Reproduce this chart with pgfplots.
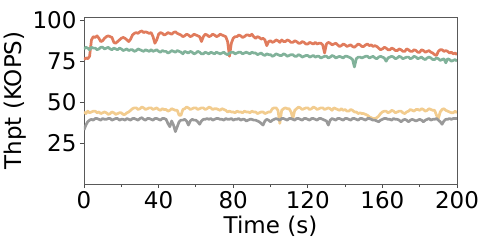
\documentclass[border=0pt]{standalone}
\usepackage{pgfplots}
\pgfplotsset{compat=1.18}
\usepackage{fontspec}
\setmainfont{DejaVu Sans}
\definecolor{cred}{RGB}{224,123,92}
\definecolor{cgreen}{RGB}{129,178,154}
\definecolor{cyellow}{RGB}{242,204,143}
\definecolor{cgray}{RGB}{153,153,153}
\begin{document}
\begin{tikzpicture}
\useasboundingbox (0,0) rectangle (488pt,250pt);
\begin{axis}[
  at={(84pt,66pt)}, anchor=south west,
  scale only axis, width=373pt, height=167pt,
  xmin=0, xmax=200, ymin=0, ymax=102,
  xtick={0,40,...,200}, minor xtick={20,60,...,180},
  ytick={25,50,75,100},
  tick align=outside, major tick length=4pt, minor tick length=3pt,
  xtick pos=bottom, ytick pos=left,
  tick style={black!70, line width=0.8pt},
  axis line style={black!65, line width=0.9pt},
  ticklabel style={font=\fontsize{23}{25}\selectfont},
  label style={font=\fontsize{23}{25}\selectfont},
  /pgf/number format/assume math mode=true,
  xlabel={Time (s)}, ylabel={Thpt (KOPS)},
  xlabel style={yshift=0pt},
  ylabel style={yshift=-1pt},
  every axis plot/.append style={line width=2.7pt, line join=round, no marks},
]
\addplot[cred] coordinates {
(0,76)(1,77)(2,76.5)(3,78)(4,88)(5,90)(6,89.5)(7,90.5)(8,89)(9,87)(10,87.5)(11,89)(12,90)(13,90.5)(14,90)(15,89.5)(16,86.5)(17,86)(18,87)(19,88)(20,89)(21,89.5)(22,89)(23,88)(24,87)(25,88.5)(26,91)(27,92)(28,92.5)(29,92)(30,93)(31,93.5)(32,92.5)(33,93)(34,92.5)(35,92)(36,92.5)(37,90)(38,86)(39,88)(40,91.5)(41,92.5)(42,92)(43,91)(44,91.5)(45,92.5)(46,92)(47,91.5)(48,92.5)(49,93)(50,92)(51,91.5)(52,91)(53,90)(54,90.5)(55,91.5)(56,91)(57,90)(58,90.5)(59,91.5)(60,91)(61,90.5)(62,90)(63,87)(64,90)(65,91.5)(66,91)(67,90)(68,90.5)(69,91.5)(70,91)(71,90)(72,90.5)(73,91.5)(74,91)(75,90.5)(76,90)(77,87)(78,78)(79,86)(80,89)(81,90)(82,90)(83,91)(84,90.5)(85,89.5)(86,90)(87,91)(88,91)(89,90.5)(90,91.5)(91,90)(92,89)(93,90)(94,89.5)(95,88.5)(96,89)(97,88)(98,84.5)(99,87)(100,87.5)(101,86.5)(102,87)(103,88)(104,87.5)(105,86.5)(106,88)(107,87)(108,87)(109,88)(110,87.5)(111,86.5)(112,86.5)(113,87.5)(114,87)(115,86)(116,86)(117,87)(118,86.5)(119,85.5)(120,85.5)(121,86.5)(122,86)(123,85.5)(124,86.5)(125,85.5)(126,86)(127,86)(128,85)(129,80)(130,85.5)(131,86.5)(132,86)(133,85)(134,85.5)(135,86)(136,85)(137,84)(138,84.5)(139,85.5)(140,85)(141,84)(142,84.5)(143,85)(144,84)(145,83.5)(146,84.5)(147,85.5)(148,85)(149,84)(150,84)(151,85)(152,85.5)(153,84.5)(154,85)(155,84)(156,84.5)(157,84)(158,83)(159,82)(160,82.5)(161,83.5)(162,83)(163,82)(164,82)(165,83)(166,82.5)(167,81.5)(168,81.5)(169,82.5)(170,82)(171,81)(172,81)(173,82.5)(174,82)(175,81)(176,81)(177,82)(178,81.5)(179,80.5)(180,80.5)(181,82)(182,81.5)(183,80.5)(184,81)(185,81.5)(186,80.5)(187,80)(188,79)(189,78.5)(190,81)(191,82)(192,82)(193,81)(194,81.5)(195,81)(196,80)(197,80.5)(198,79.5)(199,80)(200,79)
};
\addplot[cgreen] coordinates {
(0,82.5)(1,83.5)(2,83)(3,82)(4,83.5)(5,83)(6,83)(7,82)(8,82.5)(9,83.5)(10,83.5)(11,82.5)(12,83)(13,83.5)(14,82.5)(15,82)(16,83)(17,82.5)(18,82)(19,83)(20,82.5)(21,81.5)(22,82)(23,82.5)(24,81.5)(25,82)(26,82)(27,81)(28,81.5)(29,82.5)(30,82)(31,81.5)(32,81)(33,82)(34,81.5)(35,81)(36,82)(37,81)(38,81.5)(39,82)(40,81)(41,80.5)(42,81.5)(43,81)(44,81)(45,80)(46,80.5)(47,81.5)(48,81)(49,80.5)(50,81.5)(51,81)(52,80.5)(53,79.5)(54,81)(55,80.5)(56,80)(57,81)(58,80.5)(59,79.5)(60,80)(61,81)(62,80.5)(63,79.5)(64,79.5)(65,80.5)(66,80)(67,79.5)(68,80.5)(69,80)(70,79.5)(71,80.5)(72,80)(73,79.5)(74,80)(75,80.5)(76,79.5)(77,79)(78,80)(79,80.5)(80,80.5)(81,79.5)(82,80)(83,80.5)(84,80.5)(85,79.5)(86,80)(87,80.5)(88,80)(89,79.5)(90,80.5)(91,80)(92,80)(93,79)(94,79.5)(95,80)(96,79)(97,78.5)(98,79.5)(99,79)(100,79)(101,78)(102,78.5)(103,79.5)(104,79)(105,78.5)(106,78.5)(107,79.5)(108,79)(109,78)(110,78.5)(111,79)(112,79)(113,78)(114,78)(115,79)(116,78.5)(117,77.5)(118,78)(119,78.5)(120,78.5)(121,77.5)(122,78)(123,78.5)(124,77.5)(125,78)(126,78)(127,77)(128,77.5)(129,78)(130,78)(131,77)(132,77.5)(133,78.5)(134,78)(135,77)(136,77.5)(137,78)(138,77.5)(139,77)(140,78)(141,78)(142,77.5)(143,77)(144,76)(145,71.5)(146,76.5)(147,77.5)(148,77.5)(149,77)(150,77.5)(151,78)(152,78)(153,77)(154,77.5)(155,78)(156,77)(157,76.5)(158,77.5)(159,78)(160,77.5)(161,77)(162,75)(163,77)(164,77.5)(165,78)(166,77.5)(167,76.5)(168,77)(169,78)(170,77.5)(171,76.5)(172,77)(173,77.5)(174,77.5)(175,76.5)(176,77)(177,78)(178,77.5)(179,76.5)(180,77)(181,77.5)(182,76.5)(183,76)(184,77)(185,77.5)(186,77)(187,76)(188,76)(189,77)(190,76.5)(191,75.5)(192,76)(193,76.5)(194,74)(195,76.5)(196,76)(197,75)(198,75.5)(199,76)(200,75)
};
\addplot[cyellow] coordinates {
(0,44)(1,43)(2,44.5)(3,43.5)(4,44)(5,44.5)(6,44.5)(7,43.5)(8,44)(9,43)(10,43.5)(11,44)(12,43.5)(13,42.5)(14,43)(15,44)(16,43.5)(17,42.5)(18,43)(19,43.5)(20,43.5)(21,42.5)(22,42.5)(23,43.5)(24,44)(25,45)(26,46)(27,46.5)(28,46.5)(29,45.5)(30,46)(31,47)(32,46.5)(33,45.5)(34,46)(35,46.5)(36,46.5)(37,45.5)(38,46)(39,46.5)(40,45.5)(41,45)(42,46)(43,45.5)(44,45.5)(45,44.5)(46,45)(47,46)(48,45.5)(49,45)(50,45)(51,42)(52,42)(53,45.5)(54,46)(55,47)(56,46.5)(57,45.5)(58,46)(59,46.5)(60,46.5)(61,45.5)(62,46)(63,46.5)(64,46.5)(65,45.5)(66,46)(67,47)(68,46.5)(69,45.5)(70,46)(71,46)(72,45.5)(73,45)(74,46)(75,45.5)(76,45)(77,44)(78,44.5)(79,44)(80,44)(81,43.5)(82,44.5)(83,44)(84,44)(85,43.5)(86,44.5)(87,44)(88,44)(89,43.5)(90,44.5)(91,44)(92,44)(93,43)(94,43.5)(95,44)(96,44)(97,43)(98,43.5)(99,44)(100,44)(101,46)(102,46.5)(103,46.5)(104,45)(105,37)(106,45)(107,46)(108,46.5)(109,46)(110,46)(111,44)(112,40)(113,45)(114,46)(115,47)(116,46.5)(117,45.5)(118,46)(119,46.5)(120,46.5)(121,45.5)(122,46)(123,47)(124,46.5)(125,45.5)(126,46)(127,46.5)(128,46.5)(129,45.5)(130,46)(131,46.5)(132,46)(133,45)(134,46.5)(135,46)(136,45.5)(137,45)(138,46)(139,45)(140,45.5)(141,44.5)(142,44.5)(143,45.5)(144,45)(145,44)(146,44)(147,43)(148,43.5)(149,43)(150,43)(151,42.5)(152,42)(153,41)(154,40.5)(155,40)(156,40)(157,40.5)(158,41.5)(159,43)(160,44)(161,44.5)(162,44.5)(163,43.5)(164,44)(165,45)(166,44.5)(167,43.5)(168,44)(169,44.5)(170,44.5)(171,43.5)(172,43)(173,44)(174,44.5)(175,45.5)(176,45)(177,44.5)(178,45.5)(179,45.5)(180,45)(181,46)(182,45.5)(183,44.5)(184,45)(185,46)(186,45.5)(187,45)(188,45)(189,42)(190,40)(191,44)(192,45.5)(193,46)(194,45)(195,44.5)(196,44)(197,43.5)(198,43.5)(199,44.5)(200,43.5)
};
\addplot[cgray] coordinates {
(0,33)(1,36)(2,38)(3,39)(4,39.5)(5,39)(6,40)(7,40)(8,39.5)(9,39)(10,40)(11,39.5)(12,39.5)(13,40)(14,40)(15,39)(16,39.5)(17,40)(18,40)(19,39)(20,39.5)(21,39.5)(22,39)(23,40)(24,39.5)(25,39)(26,40)(27,40)(28,39.5)(29,39)(30,40)(31,40.5)(32,39.5)(33,39)(34,40)(35,40)(36,39.5)(37,39)(38,40)(39,40)(40,39.5)(41,39)(42,40)(43,40)(44,39.5)(45,37)(46,35)(47,38.5)(48,36)(49,32)(50,35)(51,38)(52,39)(53,39)(54,39.5)(55,38.5)(56,36)(57,38.5)(58,39.5)(59,39)(60,39)(61,38)(62,36.5)(63,38.5)(64,39.5)(65,39.5)(66,40)(67,39.5)(68,40)(69,39)(70,39.5)(71,40)(72,40)(73,39.5)(74,39.5)(75,39)(76,40)(77,39.5)(78,39.5)(79,40)(80,39)(81,39.5)(82,39.5)(83,40)(84,39)(85,39.5)(86,39.5)(87,38.5)(88,39)(89,39.5)(90,39.5)(91,39)(92,39)(93,38.5)(94,38)(95,37)(96,36)(97,38.5)(98,39.5)(99,39)(100,38)(101,39)(102,39.5)(103,40)(104,39.5)(105,39)(106,40)(107,40)(108,39.5)(109,39)(110,40)(111,40)(112,39.5)(113,39)(114,40)(115,40)(116,39.5)(117,39)(118,40)(119,40)(120,39.5)(121,39)(122,40)(123,40)(124,39.5)(125,39)(126,40)(127,40)(128,39.5)(129,39)(130,38.5)(131,36)(132,39)(133,40)(134,39.5)(135,39)(136,40)(137,40)(138,39.5)(139,39)(140,40)(141,40)(142,39.5)(143,39)(144,40)(145,40)(146,39.5)(147,39)(148,40)(149,40)(150,39.5)(151,39)(152,40)(153,40)(154,39.5)(155,39)(156,39)(157,38.5)(158,38)(159,39)(160,39.5)(161,40)(162,40)(163,39.5)(164,39.5)(165,39)(166,40)(167,39.5)(168,39.5)(169,39)(170,38)(171,39)(172,39.5)(173,39)(174,38)(175,39)(176,39.5)(177,39)(178,38.5)(179,39)(180,39.5)(181,39)(182,38)(183,39)(184,39.5)(185,40)(186,39)(187,39.5)(188,39.5)(189,40)(190,39)(191,38)(192,36.5)(193,38.5)(194,39.5)(195,39.5)(196,40)(197,39.5)(198,40)(199,40)(200,40)
};
\end{axis}
\end{tikzpicture}
\end{document}
